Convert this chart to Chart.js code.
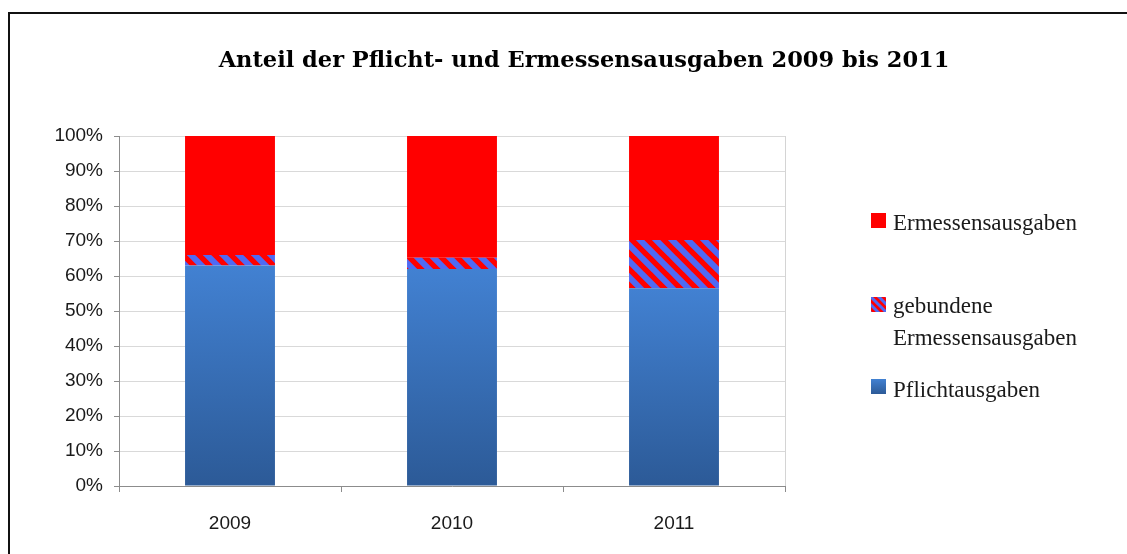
<!DOCTYPE html>
<html><head><meta charset="utf-8">
<script src="https://cdn.jsdelivr.net/npm/chart.js@4"></script>
<style>
html,body{margin:0;padding:0;background:#fff;overflow:hidden}
#wrap{position:relative;width:1127px;height:554px}
#frame{position:absolute;left:8px;top:12px;right:-10px;bottom:-10px;border-left:2px solid #111;border-top:2px solid #111;pointer-events:none}
canvas{position:absolute;left:0;top:0}
</style></head><body>
<div id="wrap"><canvas id="c" width="1127" height="554"></canvas><div id="frame"></div></div>
<script>
const categories = ['2009', '2010', '2011'];
const seriesNames = ['Pflichtausgaben', 'gebundene Ermessensausgaben', 'Ermessensausgaben'];
const pflicht = [63, 62, 56.5];
const gebunden = [3, 3.2, 13.8];
const ermessen = [34, 34.8, 29.7];
const yTickValues = [0, 10, 20, 30, 40, 50, 60, 70, 80, 90, 100];
const titleText = 'Anteil der Pflicht- und Ermessensausgaben 2009 bis 2011';

const canvas = document.getElementById('c');
const mainCtx = canvas.getContext('2d');

function makeHatch(period, lw) {
  const c = document.createElement('canvas');
  c.width = period; c.height = period;
  const g = c.getContext('2d');
  g.fillStyle = '#FF0000';
  g.fillRect(0, 0, period, period);
  g.strokeStyle = '#4F6AF4';
  g.lineWidth = lw;
  g.beginPath();
  for (let o = -period; o <= period; o += period) {
    g.moveTo(o - 2, -2); g.lineTo(o + period + 2, period + 2);
  }
  g.stroke();
  return mainCtx.createPattern(c, 'repeat');
}
const hatch = makeHatch(16, 6);
const hatchSmall = makeHatch(8, 3);

function blueGrad(ctx2d, top, bottom) {
  const g = ctx2d.createLinearGradient(0, top, 0, bottom);
  g.addColorStop(0, '#4281D2');
  g.addColorStop(1, '#2C5A97');
  return g;
}

const blueFill = (context) => {
  const ch = context.chart;
  if (!ch.chartArea || context.dataIndex === undefined) return '#3A72BC';
  const y = ch.scales.y;
  return blueGrad(ch.ctx, y.getPixelForValue(pflicht[context.dataIndex]), y.getPixelForValue(0));
};

const titlePlugin = {
  id: 'customTitle',
  afterDraw(chart) {
    const c = chart.ctx;
    c.save();
    c.font = 'bold 22.5px "DejaVu Serif"';
    c.fillStyle = '#000';
    c.textAlign = 'center';
    c.textBaseline = 'alphabetic';
    c.fillText(titleText, 584, 67);
    c.restore();
  }
};

const legendPlugin = {
  id: 'customLegend',
  afterDraw(chart) {
    const c = chart.ctx;
    c.save();
    c.font = '23px "Liberation Serif"';
    c.textBaseline = 'alphabetic';
    c.textAlign = 'left';
    const bx = 871, tx = 893, bs = 15;
    c.fillStyle = '#FF0000';
    c.fillRect(bx, 213, bs, bs);
    c.fillStyle = '#1a1a1a';
    c.fillText(seriesNames[2], tx, 230);
    c.save();
    c.fillStyle = hatchSmall;
    c.translate(bx, 297);
    c.fillRect(0, 0, bs, bs);
    c.restore();
    c.fillStyle = '#1a1a1a';
    c.fillText('gebundene', tx, 313);
    c.fillText('Ermessensausgaben', tx, 345);
    c.fillStyle = blueGrad(c, 379, 394);
    c.fillRect(bx, 379, bs, bs);
    c.fillStyle = '#1a1a1a';
    c.fillText(seriesNames[0], tx, 397);
    c.restore();
  }
};

new Chart(canvas, {
  type: 'bar',
  data: {
    labels: categories,
    datasets: [
      { label: seriesNames[0], data: pflicht, backgroundColor: blueFill },
      { label: seriesNames[1], data: gebunden, backgroundColor: hatch },
      { label: seriesNames[2], data: ermessen, backgroundColor: '#FF0000' }
    ]
  },
  options: {
    responsive: false,
    animation: false,
    events: [],
    datasets: { bar: { categoryPercentage: 1, barPercentage: 0.405, borderWidth: 0 } },
    layout: { padding: { left: 0, right: 342, top: 136, bottom: 0 } },
    plugins: {
      legend: { display: false },
      tooltip: { enabled: false },
      title: { display: false }
    },
    scales: {
      x: {
        stacked: true,
        afterFit: (s) => { s.height = 68; },
        grid: {
          offset: true,
          drawOnChartArea: true,
          color: (ctx) => ctx.type === 'scale' ? '#d4d4d4' : 'rgba(0,0,0,0)',
          tickColor: '#8c8c8c',
          tickLength: 6
        },
        border: { color: '#8c8c8c', width: 1 },
        ticks: { color: '#1a1a1a', padding: 20, font: { family: '"Liberation Sans"', size: 19 } }
      },
      y: {
        stacked: true,
        min: 0, max: 100,
        afterFit: (s) => { s.width = 119; },
        afterBuildTicks: (s) => { s.ticks = yTickValues.map(v => ({ value: v })); },
        grid: { color: '#d9d9d9', tickColor: '#8c8c8c', tickLength: 5 },
        border: { color: '#8c8c8c', width: 1 },
        ticks: {
          color: '#1a1a1a', padding: 11,
          font: { family: '"Liberation Sans"', size: 19 },
          callback: (v) => v + '%'
        }
      }
    }
  },
  plugins: [titlePlugin, legendPlugin]
});
</script>
</body></html>
